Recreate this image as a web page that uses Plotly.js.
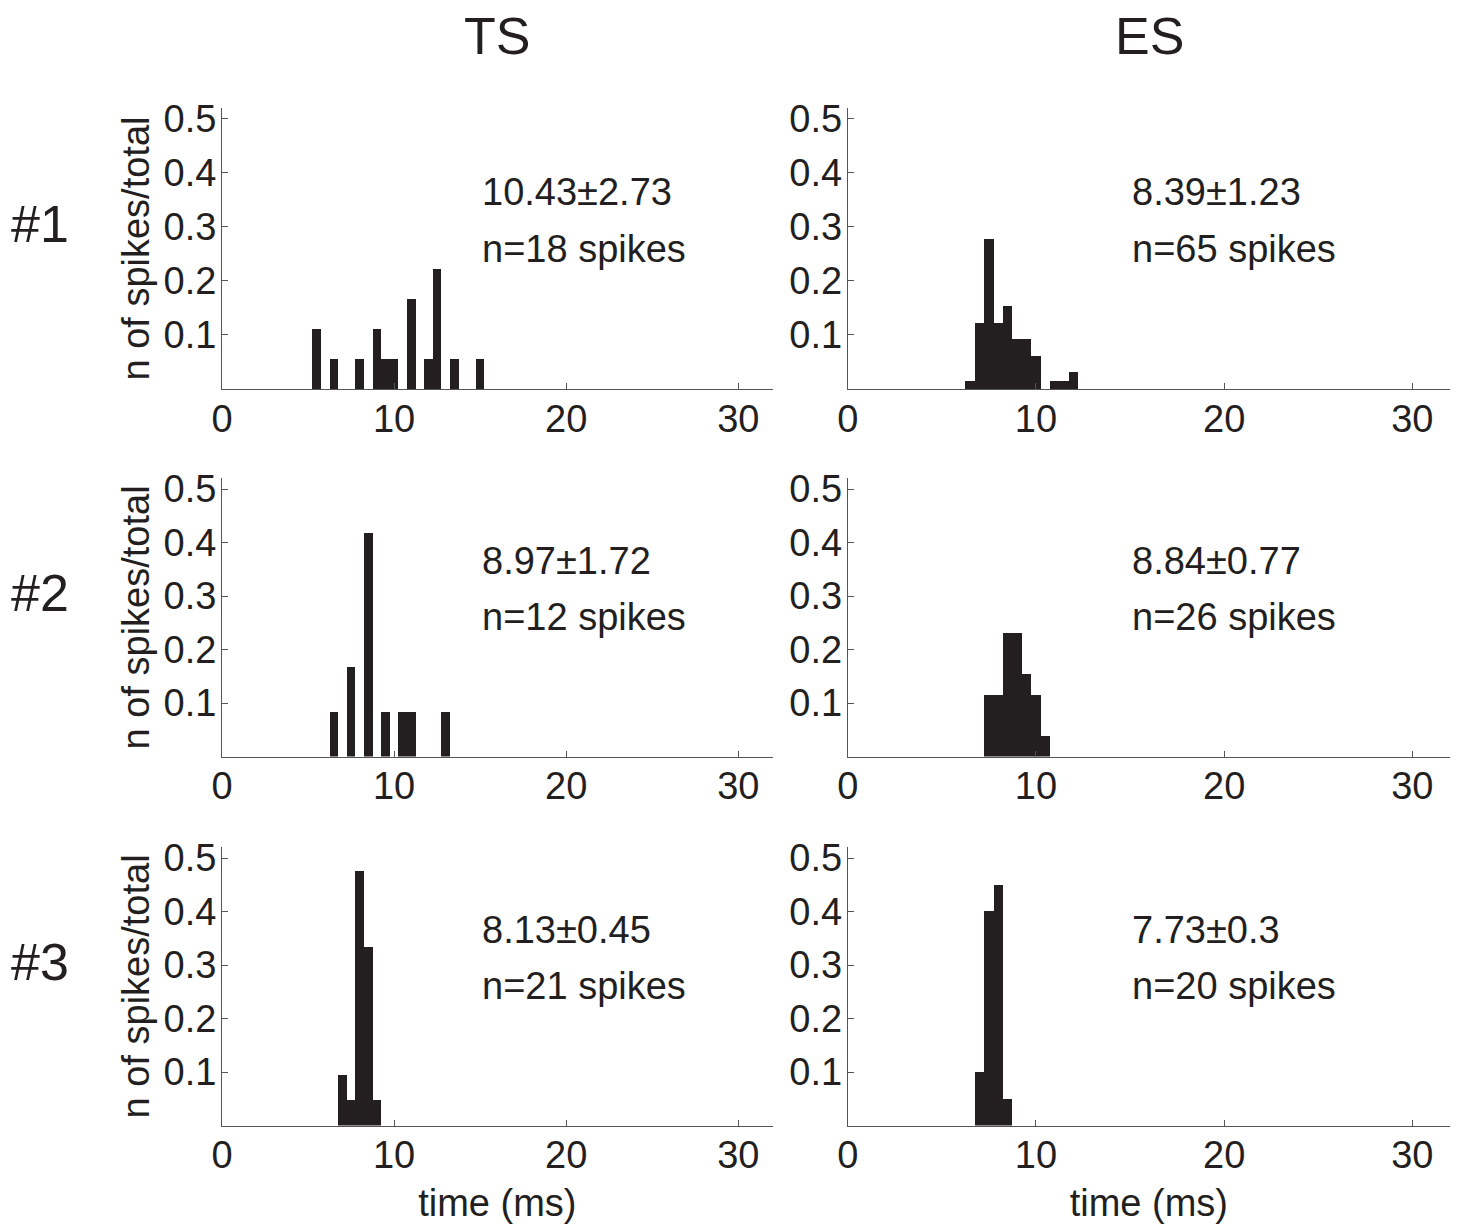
<!DOCTYPE html>
<html>
<head>
<meta charset="utf-8">
<script src="https://cdn.plot.ly/plotly-3.0.1.min.js"></script>
<style>html,body{margin:0;padding:0;background:#fff;}#chart{width:1458px;height:1224px;}</style>
</head>
<body>
<div id="chart"></div>
<script>
// Bin centres (ms) and fraction of spikes per 0.5 ms bin
var ts1X = [5.5, 6.5, 8.0, 9.0, 9.5, 10.0, 11.0, 12.0, 12.5, 13.5, 15.0];
var ts1Y = [0.111, 0.056, 0.056, 0.111, 0.056, 0.056, 0.167, 0.056, 0.222, 0.056, 0.056];
var es1X = [6.5, 7.0, 7.5, 8.0, 8.5, 9.0, 9.5, 10.0, 11.0, 11.5, 12.0];
var es1Y = [0.015, 0.123, 0.277, 0.123, 0.154, 0.092, 0.092, 0.062, 0.015, 0.015, 0.031];
var ts2X = [6.5, 7.5, 8.5, 9.5, 10.5, 11.0, 13.0];
var ts2Y = [0.083, 0.167, 0.417, 0.083, 0.083, 0.083, 0.083];
var es2X = [7.5, 8.0, 8.5, 9.0, 9.5, 10.0, 10.5];
var es2Y = [0.115, 0.115, 0.231, 0.231, 0.154, 0.115, 0.038];
var ts3X = [7.0, 7.5, 8.0, 8.5, 9.0];
var ts3Y = [0.095, 0.048, 0.476, 0.333, 0.048];
var es3X = [7.0, 7.5, 8.0, 8.5];
var es3Y = [0.10, 0.40, 0.45, 0.05];

var columnTitles = ['TS', 'ES'];
var rowLabels = ['#1', '#2', '#3'];
var statTexts = ['10.43±2.73', '8.39±1.23', '8.97±1.72', '8.84±0.77', '8.13±0.45', '7.73±0.3'];
var countTexts = ['n=18 spikes', 'n=65 spikes', 'n=12 spikes', 'n=26 spikes', 'n=21 spikes', 'n=20 spikes'];
var xTickVals = [0, 10, 20, 30];
var yTickVals = [0.1, 0.2, 0.3, 0.4, 0.5];
var yTickText = ['0.1', '0.2', '0.3', '0.4', '0.5'];

var W = 1458, H = 1224;
var FONT = 'Liberation Sans, Arial, Helvetica, sans-serif';
var TXT = '#231f20';
var BAR = '#231f20';
var FS = 38;

var panels = [
  {x: ts1X, y: ts1Y}, {x: es1X, y: es1Y},
  {x: ts2X, y: ts2Y}, {x: es2X, y: es2Y},
  {x: ts3X, y: ts3Y}, {x: es3X, y: es3Y}
];

// pixel geometry -> paper domains
var colPx = [[222, 772.7], [847.7, 1450]];
var rowPx = [[108, 389], [478.3, 756.5], [847.3, 1125.5]];
function xd(p){ return [p[0]/W, p[1]/W]; }
function yd(p){ return [1 - p[1]/H, 1 - p[0]/H]; }

var data = [];
var layout = {
  width: W, height: H,
  margin: {l: 0, r: 0, t: 0, b: 0},
  paper_bgcolor: '#fff', plot_bgcolor: '#fff',
  showlegend: false,
  bargap: 0,
  font: {family: FONT, color: TXT, size: FS},
  annotations: []
};

for (var i = 0; i < 6; i++) {
  var r = Math.floor(i / 2), c = i % 2;
  var n = i + 1;
  var xa = 'x' + (n === 1 ? '' : n), ya = 'y' + (n === 1 ? '' : n);
  data.push({
    type: 'bar', x: panels[i].x, y: panels[i].y,
    width: 0.5, xaxis: xa, yaxis: ya,
    marker: {color: BAR, line: {width: 0}},
    hoverinfo: 'x+y'
  });
  var xaxis = {
    domain: xd(colPx[c]), range: [0, 32], anchor: ya,
    showgrid: false, zeroline: false,
    showline: true, linecolor: '#555', linewidth: 1,
    ticks: 'inside', ticklen: 6, tickcolor: '#555', tickwidth: 1,
    tickmode: 'array', tickvals: xTickVals,
    tickfont: {family: FONT, size: FS, color: TXT},
    ticklabelstandoff: -4,
    fixedrange: true
  };
  if (r === 2) {
    xaxis.title = {text: 'time (ms)', font: {family: FONT, size: FS, color: TXT}, standoff: 14};
  }
  var yaxis = {
    domain: yd(rowPx[r]), range: [0, 0.52], anchor: xa,
    showgrid: false, zeroline: false,
    showline: true, linecolor: '#555', linewidth: 1,
    ticks: 'inside', ticklen: 6, tickcolor: '#555', tickwidth: 1,
    tickmode: 'array', tickvals: yTickVals, ticktext: yTickText,
    tickfont: {family: FONT, size: FS, color: TXT},
    ticklabelstandoff: -3,
    fixedrange: true
  };
  if (c === 0) {
    yaxis.title = {text: 'n of spikes/total', font: {family: FONT, size: FS, color: TXT}, standoff: 2};
  }
  layout['xaxis' + (n === 1 ? '' : n)] = xaxis;
  layout['yaxis' + (n === 1 ? '' : n)] = yaxis;

  layout.annotations.push({
    xref: xa, yref: ya, x: 15, y: 0.365, xanchor: 'left', yanchor: 'middle',
    text: statTexts[i], showarrow: false, font: {family: FONT, size: FS, color: TXT}
  });
  layout.annotations.push({
    xref: xa, yref: ya, x: 15, y: 0.26, xanchor: 'left', yanchor: 'middle',
    text: countTexts[i], showarrow: false, font: {family: FONT, size: FS, color: TXT}
  });
}

// column titles
var colCenters = [497, 1149];
for (var c2 = 0; c2 < 2; c2++) {
  layout.annotations.push({
    xref: 'paper', yref: 'paper', x: colCenters[c2] / W, y: 1 - 36 / H,
    xanchor: 'center', yanchor: 'middle', text: columnTitles[c2], showarrow: false,
    font: {family: FONT, size: 52, color: TXT}
  });
}
// row labels
var rowCenters = [224, 593, 962];
for (var r2 = 0; r2 < 3; r2++) {
  layout.annotations.push({
    xref: 'paper', yref: 'paper', x: 40 / W, y: 1 - rowCenters[r2] / H,
    xanchor: 'center', yanchor: 'middle', text: rowLabels[r2], showarrow: false,
    font: {family: FONT, size: 52, color: TXT}
  });
}

Plotly.newPlot('chart', data, layout, {displayModeBar: false, staticPlot: true});
</script>
</body>
</html>
